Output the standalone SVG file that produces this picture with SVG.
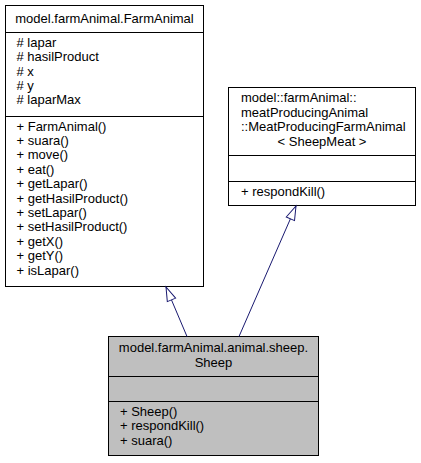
<svg xmlns="http://www.w3.org/2000/svg" width="421" height="463" viewBox="0 0 421 463">
<defs>
<style>
.box{fill:#ffffff;stroke:#000000;stroke-width:1}
.cur{fill:#bfbfbf;stroke:#000000;stroke-width:1}
.sep{stroke:#000000;stroke-width:1;fill:none}
text{font-family:"Liberation Sans",Arial,sans-serif;font-size:13px;fill:#000000}
.c{text-anchor:middle}
.edge{stroke:#191970;stroke-width:1;fill:none;marker-end:url(#hollow)}
</style>
<marker id="hollow" viewBox="0 0 14 10" refX="14" refY="5" markerWidth="14" markerHeight="10" markerUnits="userSpaceOnUse" orient="auto" overflow="visible">
<path d="M0,0.5 L14,5 L0,9.5 Z" fill="#ffffff" stroke="#191970" stroke-width="1"/>
</marker>
</defs>
<rect width="421" height="463" fill="#ffffff"/>
<g id="node-FarmAnimal">
<rect class="box" x="5.5" y="5.5" width="198" height="281"/>
<line class="sep" x1="5.5" y1="32.5" x2="203.5" y2="32.5"/>
<line class="sep" x1="5.5" y1="116.5" x2="203.5" y2="116.5"/>
<text class="c" x="104.5" y="22.5">model.farmAnimal.FarmAnimal</text>
<text x="16.5" y="46.7"># lapar</text>
<text x="16.5" y="61.1"># hasilProduct</text>
<text x="16.5" y="75.5"># x</text>
<text x="16.5" y="89.9"># y</text>
<text x="16.5" y="104.3"># laparMax</text>
<text x="16.5" y="130.5">+ FarmAnimal()</text>
<text x="16.5" y="144.9">+ suara()</text>
<text x="16.5" y="159.3">+ move()</text>
<text x="16.5" y="173.7">+ eat()</text>
<text x="16.5" y="188.1">+ getLapar()</text>
<text x="16.5" y="202.5">+ getHasilProduct()</text>
<text x="16.5" y="216.9">+ setLapar()</text>
<text x="16.5" y="231.3">+ setHasilProduct()</text>
<text x="16.5" y="245.7">+ getX()</text>
<text x="16.5" y="260.1">+ getY()</text>
<text x="16.5" y="274.5">+ isLapar()</text>
</g>
<g id="node-MeatProducingFarmAnimal">
<rect class="box" x="228.5" y="87.5" width="187" height="118"/>
<line class="sep" x1="228.5" y1="155.5" x2="415.5" y2="155.5"/>
<line class="sep" x1="228.5" y1="181.5" x2="415.5" y2="181.5"/>
<text x="241" y="102.3">model::farmAnimal::</text>
<text x="241" y="116.7">meatProducingAnimal</text>
<text x="241" y="131.1">::MeatProducingFarmAnimal</text>
<text class="c" x="322" y="145.5">&lt; SheepMeat &gt;</text>
<text x="241" y="196.3">+ respondKill()</text>
</g>
<g id="node-Sheep">
<rect class="cur" x="108.5" y="336.5" width="210" height="119"/>
<line class="sep" x1="108.5" y1="376.5" x2="318.5" y2="376.5"/>
<line class="sep" x1="108.5" y1="401.5" x2="318.5" y2="401.5"/>
<text class="c" x="213.5" y="352.3">model.farmAnimal.animal.sheep.</text>
<text class="c" x="213.5" y="366.7">Sheep</text>
<text x="120" y="416">+ Sheep()</text>
<text x="120" y="430.4">+ respondKill()</text>
<text x="120" y="444.8">+ suara()</text>
</g>
<g id="connectors">
<line class="edge" x1="187" y1="336.5" x2="166" y2="287"/>
<line class="edge" x1="239" y1="336.5" x2="296" y2="206"/>
</g>
</svg>
